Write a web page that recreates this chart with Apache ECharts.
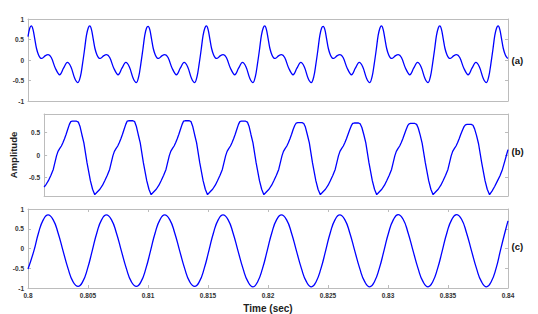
<!DOCTYPE html>
<html><head><meta charset="utf-8">
<script src="https://cdn.jsdelivr.net/npm/echarts@6/dist/echarts.min.js"></script>
<style>html,body{margin:0;padding:0;background:#fff}#c{width:538px;height:314px}</style>
</head><body><div id="c"></div>
<script>
// Time values in milliseconds (shown on the axis in seconds)
const timeA = [
800.00,800.15,800.28,800.42,800.56,800.71,800.88,801.03,801.16,801.42,801.68,801.94,802.28,802.64,802.96,803.28,803.58,803.90,804.16,
804.37,804.54,804.71,804.87,805.02,805.15,805.29,805.43,805.58,805.75,805.90,806.03,806.29,806.55,806.81,807.15,807.51,807.83,808.15,808.45,808.77,809.03,
809.23,809.40,809.57,809.73,809.88,810.01,810.15,810.29,810.44,810.61,810.76,810.89,811.15,811.41,811.67,812.01,812.37,812.69,813.01,813.31,813.63,813.89,
814.09,814.26,814.43,814.59,814.74,814.87,815.01,815.15,815.30,815.47,815.62,815.75,816.01,816.27,816.53,816.87,817.23,817.55,817.87,818.17,818.49,818.75,
818.95,819.12,819.29,819.45,819.60,819.73,819.87,820.01,820.16,820.33,820.48,820.61,820.87,821.13,821.39,821.73,822.09,822.41,822.73,823.03,823.35,823.61,
823.82,823.99,824.16,824.32,824.47,824.60,824.74,824.88,825.03,825.20,825.35,825.48,825.74,826.00,826.26,826.60,826.96,827.28,827.60,827.90,828.22,828.48,
828.68,828.85,829.02,829.18,829.33,829.46,829.60,829.74,829.89,830.06,830.21,830.34,830.60,830.86,831.12,831.46,831.82,832.14,832.46,832.76,833.08,833.34,
833.54,833.71,833.88,834.04,834.19,834.32,834.46,834.60,834.75,834.92,835.07,835.20,835.46,835.72,835.98,836.32,836.68,837.00,837.32,837.62,837.94,838.20,
838.40,838.57,838.74,838.90,839.05,839.18,839.32,839.46,839.61,839.78,839.93,840.00
];
const ampA = [
0.57,0.78,0.83,0.74,0.52,0.28,0.12,0.05,0.04,0.10,0.13,0.06,-0.20,-0.36,-0.20,-0.06,-0.17,-0.45,-0.55,
-0.40,-0.10,0.25,0.60,0.78,0.83,0.74,0.52,0.28,0.12,0.05,0.04,0.10,0.13,0.06,-0.20,-0.36,-0.20,-0.06,-0.17,-0.45,-0.55,
-0.40,-0.10,0.25,0.60,0.78,0.82,0.74,0.52,0.28,0.12,0.05,0.04,0.10,0.13,0.06,-0.20,-0.36,-0.20,-0.06,-0.17,-0.45,-0.55,
-0.40,-0.10,0.25,0.60,0.78,0.83,0.74,0.52,0.28,0.12,0.05,0.04,0.10,0.13,0.06,-0.20,-0.36,-0.20,-0.06,-0.17,-0.45,-0.55,
-0.40,-0.10,0.25,0.60,0.78,0.83,0.74,0.52,0.28,0.12,0.05,0.04,0.10,0.13,0.06,-0.20,-0.36,-0.20,-0.06,-0.17,-0.45,-0.55,
-0.40,-0.10,0.25,0.60,0.78,0.82,0.74,0.52,0.28,0.12,0.05,0.04,0.10,0.13,0.06,-0.20,-0.36,-0.20,-0.06,-0.17,-0.45,-0.55,
-0.40,-0.10,0.25,0.60,0.78,0.83,0.74,0.52,0.28,0.12,0.05,0.04,0.10,0.13,0.06,-0.20,-0.36,-0.20,-0.06,-0.17,-0.45,-0.55,
-0.40,-0.10,0.25,0.60,0.78,0.83,0.74,0.52,0.28,0.12,0.05,0.04,0.10,0.13,0.06,-0.20,-0.36,-0.20,-0.06,-0.17,-0.45,-0.55,
-0.40,-0.10,0.25,0.60,0.78,0.83,0.74,0.52,0.28,0.12,0.05,0.04
];
const timeB = [
800.00,800.18,800.37,800.59,800.79,800.93,801.07,801.20,801.34,801.49,801.62,801.76,801.90,802.04,802.18,802.30,802.43,802.80,802.95,803.09,803.26,803.43,803.70,803.99,804.18,
804.37,804.58,804.81,805.04,805.23,805.45,805.65,805.79,805.93,806.06,806.20,806.35,806.48,806.62,806.76,806.90,807.04,807.16,807.29,807.66,807.81,807.95,808.12,808.29,808.56,808.85,809.04,
809.23,809.44,809.67,809.90,810.09,810.31,810.51,810.65,810.79,810.92,811.06,811.21,811.34,811.48,811.62,811.76,811.90,812.02,812.15,812.52,812.67,812.81,812.98,813.15,813.42,813.71,813.90,
814.09,814.30,814.53,814.76,814.95,815.17,815.37,815.51,815.65,815.78,815.92,816.07,816.20,816.34,816.48,816.62,816.76,816.88,817.01,817.38,817.53,817.67,817.84,818.01,818.28,818.57,818.76,
818.95,819.16,819.39,819.62,819.81,820.03,820.23,820.37,820.51,820.64,820.78,820.93,821.06,821.20,821.34,821.48,821.62,821.74,821.87,822.24,822.39,822.53,822.70,822.87,823.14,823.43,823.62,
823.82,824.03,824.26,824.49,824.68,824.90,825.10,825.24,825.38,825.51,825.65,825.80,825.93,826.07,826.21,826.35,826.49,826.61,826.74,827.11,827.26,827.40,827.57,827.74,828.01,828.30,828.49,
828.68,828.89,829.12,829.35,829.54,829.76,829.96,830.10,830.24,830.37,830.51,830.66,830.79,830.93,831.07,831.21,831.35,831.47,831.60,831.97,832.12,832.26,832.43,832.60,832.87,833.16,833.35,
833.54,833.75,833.98,834.21,834.40,834.62,834.82,834.96,835.10,835.23,835.37,835.52,835.65,835.79,835.93,836.07,836.21,836.33,836.46,836.83,836.98,837.12,837.29,837.46,837.73,838.02,838.21,
838.41,838.62,838.85,839.08,839.31,839.52,839.73,839.87,840.00
];
const ampB = [
-0.71,-0.65,-0.57,-0.45,-0.32,-0.17,-0.02,0.08,0.14,0.20,0.27,0.36,0.46,0.57,0.68,0.74,0.75,0.75,0.73,0.64,0.45,0.27,-0.17,-0.57,-0.76,
-0.88,-0.82,-0.76,-0.67,-0.57,-0.45,-0.32,-0.17,-0.02,0.08,0.14,0.20,0.27,0.36,0.46,0.57,0.68,0.75,0.76,0.76,0.74,0.64,0.45,0.27,-0.17,-0.57,-0.76,
-0.88,-0.82,-0.76,-0.67,-0.57,-0.45,-0.32,-0.17,-0.02,0.08,0.14,0.20,0.27,0.36,0.46,0.57,0.68,0.75,0.76,0.76,0.74,0.64,0.45,0.27,-0.17,-0.57,-0.76,
-0.88,-0.82,-0.76,-0.67,-0.57,-0.45,-0.32,-0.17,-0.02,0.08,0.14,0.20,0.27,0.36,0.46,0.57,0.68,0.74,0.75,0.75,0.73,0.64,0.45,0.27,-0.17,-0.57,-0.76,
-0.88,-0.82,-0.76,-0.67,-0.57,-0.45,-0.32,-0.17,-0.02,0.08,0.14,0.20,0.27,0.36,0.46,0.57,0.66,0.71,0.72,0.72,0.70,0.62,0.45,0.27,-0.17,-0.57,-0.76,
-0.88,-0.82,-0.76,-0.67,-0.57,-0.45,-0.32,-0.17,-0.02,0.08,0.14,0.20,0.27,0.36,0.46,0.56,0.65,0.70,0.71,0.71,0.69,0.61,0.45,0.27,-0.17,-0.57,-0.76,
-0.88,-0.82,-0.76,-0.67,-0.57,-0.45,-0.32,-0.17,-0.02,0.08,0.14,0.20,0.27,0.36,0.46,0.56,0.65,0.69,0.70,0.70,0.68,0.60,0.44,0.26,-0.17,-0.57,-0.76,
-0.88,-0.82,-0.76,-0.67,-0.57,-0.45,-0.32,-0.17,-0.02,0.08,0.14,0.20,0.27,0.36,0.46,0.55,0.63,0.67,0.68,0.68,0.66,0.58,0.43,0.25,-0.17,-0.57,-0.76,
-0.88,-0.80,-0.70,-0.58,-0.46,-0.32,-0.13,0.00,0.12
];
const timeC = [
800.00,800.49,800.88,801.28,
801.67,802.09,802.50,802.92,803.34,803.75,804.17,804.56,804.96,805.35,805.74,806.14,
806.53,806.95,807.36,807.78,808.20,808.61,809.03,809.42,809.82,810.21,810.60,811.00,
811.39,811.81,812.22,812.64,813.06,813.47,813.89,814.28,814.68,815.07,815.46,815.86,
816.25,816.67,817.08,817.50,817.92,818.33,818.75,819.14,819.54,819.93,820.32,820.72,
821.12,821.54,821.95,822.37,822.79,823.20,823.62,824.01,824.41,824.80,825.19,825.59,
825.98,826.40,826.81,827.23,827.65,828.06,828.48,828.87,829.27,829.66,830.05,830.45,
830.84,831.26,831.67,832.09,832.51,832.92,833.34,833.73,834.13,834.52,834.91,835.31,
835.71,836.13,836.54,836.96,837.38,837.79,838.21,838.60,839.00,839.39,839.78,840.00
];
const ampC = [
-0.52,-0.06,0.40,0.73,
0.85,0.73,0.40,-0.06,-0.51,-0.84,-0.96,-0.84,-0.51,-0.06,0.40,0.73,
0.85,0.73,0.40,-0.06,-0.51,-0.84,-0.96,-0.84,-0.51,-0.06,0.40,0.73,
0.85,0.73,0.40,-0.06,-0.51,-0.84,-0.96,-0.84,-0.51,-0.06,0.40,0.73,
0.85,0.73,0.40,-0.06,-0.51,-0.84,-0.97,-0.84,-0.51,-0.06,0.40,0.73,
0.85,0.73,0.40,-0.06,-0.51,-0.84,-0.97,-0.84,-0.51,-0.06,0.40,0.73,
0.85,0.73,0.40,-0.06,-0.51,-0.84,-0.97,-0.84,-0.51,-0.06,0.40,0.73,
0.86,0.74,0.40,-0.06,-0.51,-0.84,-0.97,-0.84,-0.51,-0.06,0.40,0.73,
0.86,0.74,0.40,-0.06,-0.51,-0.84,-0.97,-0.84,-0.51,-0.02,0.45,0.70
];
const xRange = [0.8, 0.84];
const xStep = 0.005;
const yRangeAC = [-1, 1];
const yRangeB = [-0.91, 0.91];
const yTicksB = [-0.5, 0, 0.5];
const panelLabels = ['(a)', '(b)', '(c)'];

function pairs(t, v) {
  const n = Math.min(t.length, v.length);
  const out = [];
  for (let i = 0; i < n; i++) out.push([t[i] / 1000, v[i]]);
  return out;
}

const GRAY = '#bcbcbc';
const FONT = 'Liberation Sans, Arial, Helvetica, sans-serif';
const tops = [19, 114, 209];
const grid = tops.map(top => ({ left: 28, top: top, width: 480, height: 82 }));

const xAxis = [], yAxis = [];
for (let g = 0; g < 3; g++) {
  ['bottom', 'top'].forEach(pos => {
    const isMainX = (g === 2 && pos === 'bottom');
    xAxis.push({
      type: 'value', gridIndex: g, position: pos,
      min: xRange[0], max: xRange[1], interval: xStep,
      axisLine: { show: true, onZero: false, lineStyle: { color: GRAY, width: 1 } },
      axisTick: { show: g === 2, inside: true, length: 3, lineStyle: { color: GRAY } },
      axisLabel: { show: isMainX, fontSize: 6.5, color: '#333', fontFamily: FONT, margin: 4, fontWeight: 'bold' },
      splitLine: { show: false },
      name: isMainX ? 'Time (sec)' : '',
      nameLocation: 'middle', nameGap: 15,
      nameTextStyle: { fontSize: 10, fontWeight: 'bold', color: '#222', fontFamily: FONT }
    });
  });
  ['left', 'right'].forEach(pos => {
    const isB = g === 1;
    const r = isB ? yRangeB : yRangeAC;
    const ax = {
      type: 'value', gridIndex: g, position: pos,
      min: r[0], max: r[1],
      axisLine: { show: true, onZero: false, lineStyle: { color: GRAY, width: 1 } },
      axisTick: { show: true, inside: true, length: 3, lineStyle: { color: GRAY } },
      axisLabel: { show: pos === 'left', fontSize: 6.5, color: '#333', fontFamily: FONT, margin: 4, fontWeight: 'bold' },
      splitLine: { show: false },
      name: (isB && pos === 'left') ? 'Amplitude' : '',
      nameLocation: 'middle', nameGap: 17,
      nameTextStyle: { fontSize: 9.5, fontWeight: 'bold', color: '#222', fontFamily: FONT }
    };
    if (isB) {
      ax.axisTick.customValues = yTicksB;
      ax.axisLabel.customValues = yTicksB;
    } else {
      ax.interval = 0.5;
    }
    yAxis.push(ax);
  });
}

const seriesData = [pairs(timeA, ampA), pairs(timeB, ampB), pairs(timeC, ampC)];
const smooths = [0.35, false, 0.5];
const series = seriesData.map((d, g) => ({
  type: 'line', xAxisIndex: 2 * g, yAxisIndex: 2 * g, data: d,
  showSymbol: false, smooth: smooths[g], clip: true,
  lineStyle: { color: '#0000ff', width: 1.3 }
}));

const labelY = [61.5, 152.3, 247.5];
const graphic = panelLabels.map((txt, i) => ({
  type: 'text', left: 511.5, top: labelY[i] - 6,
  style: { text: txt, font: 'bold 9.5px ' + FONT, fill: '#111' }
}));

const chart = echarts.init(document.getElementById('c'), null, { renderer: 'svg', width: 538, height: 314 });
chart.setOption({
  animation: false,
  backgroundColor: '#fff',
  grid, xAxis, yAxis, series, graphic
});
</script>
</body></html>
